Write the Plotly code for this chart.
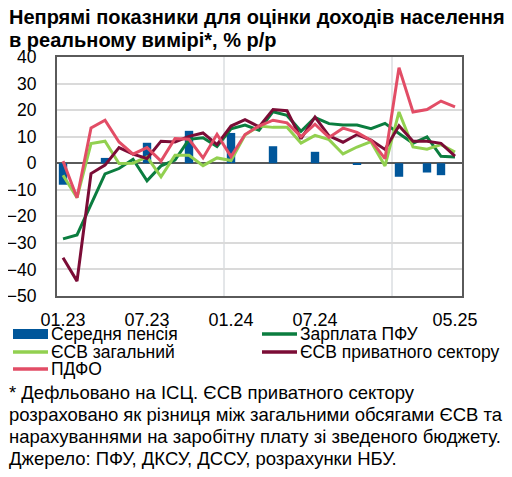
import plotly.graph_objects as go

months = list(range(29))
tick_pos = [0, 6, 12, 18, 28]
tick_labels = ['01.23', '07.23', '01.24', '07.24', '05.25']

pension = [-8.1, None, None, 2.0, None, None, 7.7, None, None, 12.2, None, None,
           11.4, None, None, 6.4, None, None, 4.3, None, None, -0.6, None, None,
           -5.1, None, -3.5, -4.5, None]
wage_pfu = [-28.5, -27, -15.5, -4, -2, 1.5, -6.6, -1, 1.2, 9, 9.6, 6.3, 13, 14.4,
            12.4, 19.4, 18, 12, 17.2, 14.9, 14.4, 14.4, 13, 15, 11.2, 7.5, 9.9, 2.6, 2.3]
esv_total = [-4.5, -13, 7.4, 8.3, -0.1, 0, 2.4, -5.1, 3, 3, -0.9, 2, 1, 10.6, 14,
             13.5, 13.5, 7.6, 10.5, 8.9, 3.5, 6.1, 8.1, -1, 19.3, 6.1, 5.3, 7, 4.2]
esv_private = [-35.6, -44.4, -3.9, -0.7, 5.9, 3.4, 1.8, 8.3, 8, 10.1, 11.4, 7, 14,
               16.4, 13.7, 20.2, 19.8, 9.2, 17.4, 10.3, 7.9, 10.8, 8.7, 5.2, 14.1,
               8.3, 8.3, 7.5, 2.7]
pdfo = [0.8, -13, 13.3, 16.2, 8, 3.4, 5.9, 0.8, 9.3, 9, 2, 10.9, 2.5, 10.8, 14,
        16.2, 15.2, 10, 14.7, 9.7, 13.2, 11.6, 8.6, 1.7, 36, 19.3, 20.2, 23.4, 21.2]

title_lines = ['Непрямі показники для оцінки доходів населення',
               'в реальному вимірі*, % р/р']
footnote = ['* Дефльовано на ІСЦ. ЄСВ приватного сектору',
            'розраховано як різниця між загальними обсягами ЄСВ та',
            'нарахуваннями на заробітну плату зі зведеного бюджету.',
            'Джерело: ПФУ, ДКСУ, ДССУ, розрахунки НБУ.']

# page body has an 8px margin, so the figure is drawn 8px smaller and
# all layout positions below are given in screen pixels
OFF = 8
W, H = 512 - OFF, 477 - OFF
L, R, T, B = 57, 462, 57, 296   # plot area on screen
font = 'Liberation Sans, Arial, sans-serif'
fs = 17.5

def px(x):
    return (x - L) / (R - L)

def py(y):
    return (B - y) / (B - T)

series = [
    ('Зарплата ПФУ', wage_pfu, '#0b7d3f'),
    ('ЄСВ загальний', esv_total, '#92d050'),
    ('ЄСВ приватного сектору', esv_private, '#7b0c36'),
    ('ПДФО', pdfo, '#e24d66'),
]

fig = go.Figure()
fig.add_trace(go.Bar(x=months, y=pension, name='Середня пенсія', width=0.6,
                     marker=dict(color='#00569a', line_width=0)))
for name, vals, col in series:
    fig.add_trace(go.Scatter(x=months, y=vals, mode='lines', name=name,
                             line=dict(color=col, width=3)))

# vertical year separators
for xv in [11.5, 23.5]:
    fig.add_shape(type='line', xref='x', yref='paper', x0=xv, x1=xv, y0=0, y1=1,
                  line=dict(color='#c8cdd2', width=1), layer='below')

# legend drawn by hand: two columns, tight rows
legend_items = [
    ('Середня пенсія', '#00569a', 'bar', 13, 334),
    ('Зарплата ПФУ', '#0b7d3f', 'line', 262, 334),
    ('ЄСВ загальний', '#92d050', 'line', 13, 352),
    ('ЄСВ приватного сектору', '#7b0c36', 'line', 262, 352),
    ('ПДФО', '#e24d66', 'line', 13, 369),
]
annotations = []
for text, col, kind, x0, yc in legend_items:
    if kind == 'bar':
        fig.add_shape(type='rect', xref='paper', yref='paper', x0=px(x0), x1=px(x0 + 35),
                      y0=py(yc + 5), y1=py(yc - 5), fillcolor=col, line_width=0)
    else:
        fig.add_shape(type='line', xref='paper', yref='paper', x0=px(x0), x1=px(x0 + 35),
                      y0=py(yc), y1=py(yc), line=dict(color=col, width=3.5))
    annotations.append(dict(text=text, xref='paper', yref='paper', x=px(x0 + 36), y=py(yc),
                            xanchor='left', yanchor='middle', showarrow=False,
                            font=dict(size=fs)))

for i, line in enumerate(title_lines):
    annotations.append(dict(text='<b>' + line + '</b>', xref='paper', yref='paper',
                            x=px(7), y=py(17 + 23 * i), xanchor='left', yanchor='middle',
                            showarrow=False, font=dict(size=20)))

for i, line in enumerate(footnote):
    annotations.append(dict(text=line, xref='paper', yref='paper', x=px(7), y=py(392 + 22 * i),
                            xanchor='left', yanchor='middle', showarrow=False,
                            font=dict(size=18.5)))

fig.update_layout(
    width=W, height=H,
    margin=dict(l=L - OFF, r=W - (R - OFF), t=T - OFF, b=H - (B - OFF), autoexpand=False),
    plot_bgcolor='white', paper_bgcolor='white',
    font=dict(family=font, size=fs, color='black'),
    showlegend=False,
    annotations=annotations,
)
fig.update_xaxes(range=[-0.43, 28.5], tickvals=tick_pos, ticktext=tick_labels,
                 tickfont=dict(size=18),
                 showgrid=False, zeroline=False, showline=True, mirror=True,
                 linecolor='#5a5a5a', linewidth=2, ticks='', ticklabelstandoff=6)
fig.update_yaxes(range=[-50, 40], dtick=10, showgrid=True, gridcolor='#dadada',
                 gridwidth=1.5, zeroline=True, zerolinecolor='#5a5a5a', zerolinewidth=1.5,
                 showline=True, mirror=True, linecolor='#5a5a5a', linewidth=2,
                 ticks='', ticklabelstandoff=15)

fig.write_html("out.html")
